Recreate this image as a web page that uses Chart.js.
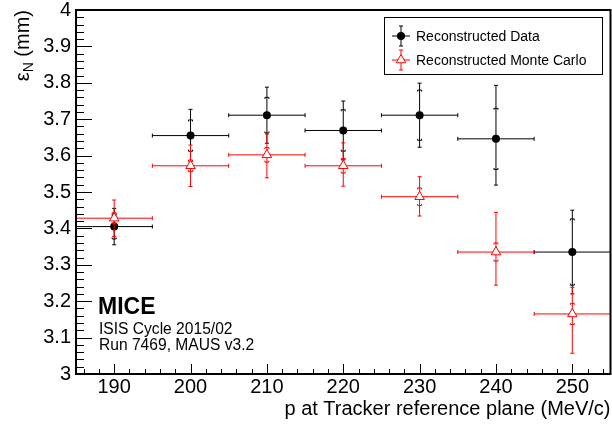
<!DOCTYPE html>
<html>
<head>
<meta charset="utf-8">
<script src="https://cdn.jsdelivr.net/npm/chart.js@4/dist/chart.umd.min.js"></script>
<style>
  html, body { margin: 0; padding: 0; background: #fff; }
  canvas { display: block; }
</style>
</head>
<body>
<canvas id="emitChart" width="612" height="427"></canvas>
<script>
const FONT = "'Liberation Sans', Arial, Helvetica, sans-serif";

// Beam momentum bins (MeV/c) and bin half widths
const momentum = [190, 200, 210, 220, 230, 240, 250];
const binHalfWidth = [5, 5, 5, 5, 5, 5, 5];

// Reconstructed data: emittance, total error (up / down), statistical error
const dataEmit = [3.405, 3.655, 3.711, 3.669, 3.711, 3.646, 3.335];
const dataErrUp = [0.050, 0.072, 0.077, 0.081, 0.088, 0.147, 0.115];
const dataErrDown = [0.050, 0.072, 0.077, 0.081, 0.088, 0.127, 0.115];
const dataStat = [0.034, 0.043, 0.049, 0.057, 0.069, 0.084, 0.091];

// Reconstructed Monte Carlo
const mcEmit = [3.428, 3.572, 3.602, 3.572, 3.487, 3.335, 3.165];
const mcErrUp = [0.050, 0.057, 0.057, 0.063, 0.055, 0.109, 0.073];
const mcErrDown = [0.050, 0.057, 0.063, 0.056, 0.053, 0.091, 0.108];
const mcStat = [0.015, 0.016, 0.020, 0.020, 0.024, 0.025, 0.029];

// Axis tick labels
const xTicks = [190, 200, 210, 220, 230, 240, 250];
const yTicks = [3, 3.1, 3.2, 3.3, 3.4, 3.5, 3.6, 3.7, 3.8, 3.9, 4];

function points(ys) {
    return momentum.map((x, i) => ({ x: x, y: ys[i] }));
}

// Error bars in the ROOT style: total error with end caps, inner ticks for stat error
function drawErrorBars(chart, ds) {
    const ctx = chart.ctx;
    const xs = chart.scales.x, ys = chart.scales.y;
    ctx.save();
    ctx.strokeStyle = ds.borderColor;
    ctx.lineWidth = 1;
    ds.data.forEach((p, i) => {
        const px = xs.getPixelForValue(p.x);
        const py = ys.getPixelForValue(p.y);
        const x0 = xs.getPixelForValue(p.x - ds.xErr[i]);
        const x1 = xs.getPixelForValue(p.x + ds.xErr[i]);
        const yTop = ys.getPixelForValue(p.y + ds.errUp[i]);
        const yBot = ys.getPixelForValue(p.y - ds.errDown[i]);
        const sTop = ys.getPixelForValue(p.y + ds.stat[i]);
        const sBot = ys.getPixelForValue(p.y - ds.stat[i]);
        ctx.beginPath();
        ctx.moveTo(x0, py); ctx.lineTo(x1, py);
        ctx.moveTo(x0, py - 2); ctx.lineTo(x0, py + 2);
        ctx.moveTo(x1, py - 2); ctx.lineTo(x1, py + 2);
        ctx.moveTo(px, yTop); ctx.lineTo(px, yBot);
        ctx.moveTo(px - 2, yTop); ctx.lineTo(px + 2, yTop);
        ctx.moveTo(px - 2, yBot); ctx.lineTo(px + 2, yBot);
        ctx.moveTo(px - 2, sTop + 1.5); ctx.lineTo(px - 2, sTop);
        ctx.lineTo(px + 2, sTop); ctx.lineTo(px + 2, sTop + 1.5);
        ctx.moveTo(px - 2, sBot - 1.5); ctx.lineTo(px - 2, sBot);
        ctx.lineTo(px + 2, sBot); ctx.lineTo(px + 2, sBot - 1.5);
        ctx.stroke();
    });
    ctx.restore();
}

function drawTriangle(ctx, x, y, r) {
    ctx.beginPath();
    ctx.moveTo(x, y - r);
    ctx.lineTo(x + r * 0.866, y + r / 2);
    ctx.lineTo(x - r * 0.866, y + r / 2);
    ctx.closePath();
}

const rootFrame = {
    id: 'rootFrame',
    beforeDatasetDraw(chart, args) {
        drawErrorBars(chart, args.meta._dataset);
    },
    afterDraw(chart) {
        const ctx = chart.ctx;
        const area = chart.chartArea;
        const xs = chart.scales.x, ys = chart.scales.y;
        ctx.save();

        // frame
        ctx.strokeStyle = '#000';
        ctx.lineWidth = 2;
        ctx.strokeRect(area.left, area.top, area.right - area.left, area.bottom - area.top);

        // inward tick marks
        ctx.lineWidth = 1;
        ctx.beginPath();
        for (let v = 3; v <= 4.0001; v += 0.02) {
            const py = Math.round(ys.getPixelForValue(v)) + 0.5;
            const major = Math.abs(v * 10 - Math.round(v * 10)) < 1e-6;
            ctx.moveTo(area.left, py);
            ctx.lineTo(area.left + (major ? 16 : 8), py);
        }
        for (let v = 186; v <= 254; v += 2) {
            const px = Math.round(xs.getPixelForValue(v)) + 0.5;
            const major = v % 10 === 0;
            ctx.moveTo(px, area.bottom);
            ctx.lineTo(px, area.bottom - (major ? 10 : 5));
        }
        ctx.stroke();

        // axis titles
        ctx.fillStyle = '#000';
        ctx.font = '20px ' + FONT;
        ctx.textAlign = 'right';
        ctx.textBaseline = 'alphabetic';
        ctx.fillText('p at Tracker reference plane (MeV/c)', area.right, 415);

        ctx.save();
        ctx.translate(29, area.top);
        ctx.rotate(-Math.PI / 2);
        ctx.textAlign = 'left';
        const mm = ' (mm)';
        ctx.font = '20px ' + FONT;
        const wEps = ctx.measureText('\u03b5').width;
        const wMm = ctx.measureText(mm).width;
        ctx.font = '14px ' + FONT;
        const wN = ctx.measureText('N').width;
        const start = -(wEps + wN + wMm);
        ctx.font = '20px ' + FONT;
        ctx.fillText('\u03b5', start, 0);
        ctx.fillText(mm, start + wEps + wN, 0);
        ctx.font = '14px ' + FONT;
        ctx.fillText('N', start + wEps, 4);
        ctx.restore();

        // experiment labels
        ctx.textAlign = 'left';
        ctx.font = 'bold 23px ' + FONT;
        ctx.fillText('MICE', 98, 314);
        ctx.font = '15.6px ' + FONT;
        ctx.fillText('ISIS Cycle 2015/02', 99, 334);
        ctx.fillText('Run 7469, MAUS v3.2', 99, 350);

        // legend
        ctx.lineWidth = 1;
        ctx.strokeRect(384.5, 17.5, 218, 57);
        const rows = [
            { y: 36, ds: chart.data.datasets[0] },
            { y: 60, ds: chart.data.datasets[1] }
        ];
        rows.forEach(row => {
            const mx = 401, my = row.y;
            ctx.strokeStyle = row.ds.borderColor;
            ctx.beginPath();
            ctx.moveTo(392, my); ctx.lineTo(410, my);
            ctx.moveTo(mx, my - 10); ctx.lineTo(mx, my + 10);
            ctx.moveTo(mx - 2, my - 10); ctx.lineTo(mx + 2, my - 10);
            ctx.moveTo(mx - 2, my + 10); ctx.lineTo(mx + 2, my + 10);
            ctx.stroke();
            if (row.ds.pointStyle === 'circle') {
                ctx.fillStyle = row.ds.backgroundColor;
                ctx.beginPath();
                ctx.arc(mx, my, 4, 0, Math.PI * 2);
                ctx.fill();
            } else {
                ctx.fillStyle = '#fff';
                drawTriangle(ctx, mx, my, 5.5);
                ctx.fill();
                ctx.stroke();
            }
            ctx.fillStyle = '#000';
            ctx.font = '14px ' + FONT;
            ctx.textBaseline = 'middle';
            ctx.fillText(row.ds.label, 416, my + 1);
        });
        ctx.restore();
    }
};

const ctx = document.getElementById('emitChart').getContext('2d');
const emitChart = new Chart(ctx, {
    type: 'scatter',
    data: {
        datasets: [{
            label: 'Reconstructed Data',
            data: points(dataEmit),
            xErr: binHalfWidth,
            errUp: dataErrUp,
            errDown: dataErrDown,
            stat: dataStat,
            pointStyle: 'circle',
            pointRadius: 4,
            backgroundColor: '#000',
            borderColor: '#000',
            borderWidth: 0,
            order: 1
        }, {
            label: 'Reconstructed Monte Carlo',
            data: points(mcEmit),
            xErr: binHalfWidth,
            errUp: mcErrUp,
            errDown: mcErrDown,
            stat: mcStat,
            pointStyle: 'triangle',
            pointRadius: 5.5,
            backgroundColor: '#fff',
            borderColor: '#ff0000',
            borderWidth: 1,
            order: 0
        }]
    },
    options: {
        responsive: false,
        animation: false,
        layout: { autoPadding: false, padding: { top: 10, right: 1.5, left: 0, bottom: 0 } },
        plugins: {
            legend: { display: false },
            tooltip: { enabled: false }
        },
        scales: {
            x: {
                type: 'linear',
                min: 185,
                max: 255,
                grid: { display: false, drawTicks: false },
                border: { display: false },
                afterBuildTicks: scale => { scale.ticks = xTicks.map(v => ({ value: v })); },
                afterFit: scale => {
                    scale.height = 53;
                    scale.paddingLeft = 0;
                    scale.paddingRight = 0;
                },
                ticks: {
                    color: '#000',
                    padding: 3,
                    maxRotation: 0,
                    autoSkip: false,
                    font: { family: FONT, size: 20, lineHeight: 1 },
                    callback: v => String(v)
                }
            },
            y: {
                min: 3,
                max: 4,
                grid: { display: false, drawTicks: false },
                border: { display: false },
                afterBuildTicks: scale => { scale.ticks = yTicks.map(v => ({ value: v })); },
                afterFit: scale => {
                    scale.width = 76;
                    scale.paddingTop = 0;
                    scale.paddingBottom = 0;
                },
                ticks: {
                    color: '#000',
                    padding: 5,
                    autoSkip: false,
                    font: { family: FONT, size: 20, lineHeight: 1 },
                    callback: v => String(Math.round(v * 10) / 10)
                }
            }
        }
    },
    plugins: [rootFrame]
});
</script>
</body>
</html>
